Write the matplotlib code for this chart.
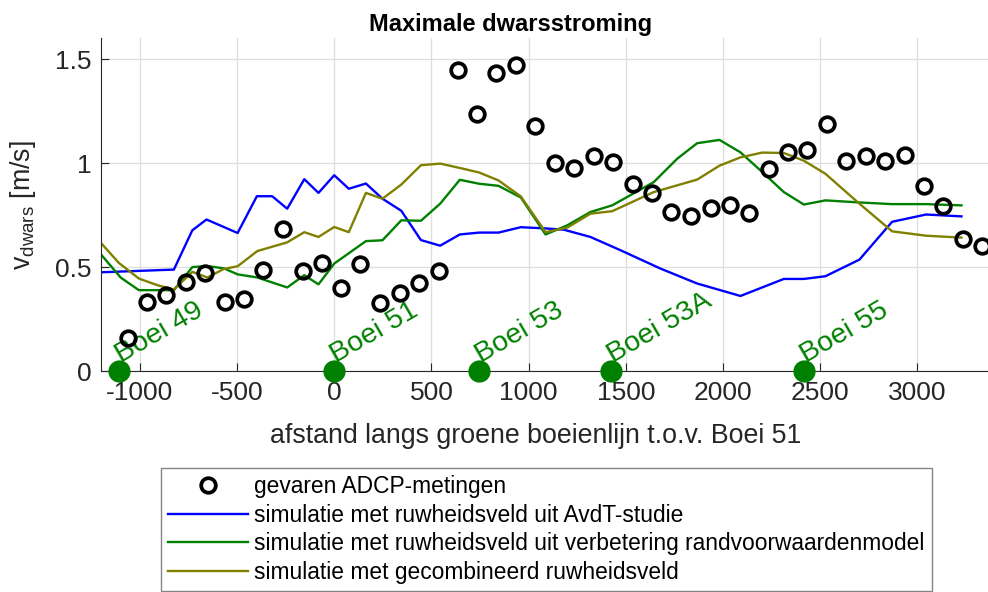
import matplotlib
matplotlib.use('Agg')
import matplotlib.pyplot as plt

plt.rcParams['font.family'] = ['Liberation Sans', 'DejaVu Sans']
plt.rcParams['mathtext.fontset'] = 'custom'
plt.rcParams['mathtext.rm'] = 'Liberation Sans'
plt.rcParams['mathtext.it'] = 'Liberation Sans:italic'
plt.rcParams['axes.unicode_minus'] = False

# gevaren ADCP-metingen
meas_x = [-1060, -962, -863, -761, -664, -561, -465, -364, -264, -163, -64, 36,
          135, 237, 337, 437, 537, 636, 736, 833, 934, 1032, 1135, 1235, 1335,
          1435, 1536, 1636, 1735, 1834, 1936, 2035, 2135, 2236, 2335, 2433,
          2534, 2634, 2735, 2834, 2934, 3035, 3134, 3234, 3333]
meas_y = [0.16, 0.33, 0.365, 0.43, 0.47, 0.33, 0.345, 0.485, 0.685, 0.48, 0.52,
          0.40, 0.515, 0.325, 0.375, 0.425, 0.48, 1.45, 1.235, 1.435, 1.47,
          1.18, 1.00, 0.975, 1.035, 1.005, 0.90, 0.855, 0.765, 0.745, 0.785,
          0.80, 0.76, 0.97, 1.055, 1.065, 1.19, 1.01, 1.035, 1.01, 1.04, 0.89,
          0.795, 0.635, 0.60]

# simulatie AvdT-studie
avdt_x = [-1200, -825, -730, -657, -497, -398, -319, -242, -154, -81, 0, 75,
          163, 248, 345, 446, 545, 646, 746, 845, 960, 1087, 1181, 1318, 1473,
          1678, 1867, 2090, 2313, 2416, 2527, 2702, 2870, 3045, 3227]
avdt_y = [0.475, 0.488, 0.677, 0.729, 0.664, 0.841, 0.841, 0.781, 0.923, 0.857,
          0.942, 0.877, 0.902, 0.829, 0.771, 0.630, 0.603, 0.657, 0.666, 0.666,
          0.692, 0.686, 0.680, 0.645, 0.581, 0.493, 0.421, 0.361, 0.443, 0.443,
          0.456, 0.536, 0.718, 0.753, 0.744]

# simulatie verbetering randvoorwaardenmodel
rvw_x = [-1200, -1099, -1005, -825, -730, -653, -568, -497, -396, -242, -154,
         -81, 0, 163, 248, 345, 446, 545, 646, 746, 845, 960, 1087, 1199, 1318,
         1430, 1644, 1764, 1867, 1982, 2090, 2193, 2313, 2416, 2527, 2702,
         2870, 3045, 3227]
rvw_y = [0.561, 0.450, 0.389, 0.389, 0.500, 0.505, 0.494, 0.465, 0.450, 0.402,
         0.461, 0.417, 0.517, 0.625, 0.629, 0.725, 0.723, 0.805, 0.920, 0.901,
         0.891, 0.835, 0.657, 0.701, 0.765, 0.797, 0.909, 1.021, 1.096, 1.112,
         1.052, 0.965, 0.861, 0.801, 0.821, 0.811, 0.803, 0.803, 0.797]

# simulatie gecombineerd ruwheidsveld
comb_x = [-1200, -1108, -1005, -910, -825, -730, -653, -568, -497, -396, -242,
          -154, -81, 0, 75, 163, 248, 345, 446, 545, 646, 746, 845, 960, 1087,
          1199, 1318, 1430, 1644, 1867, 1982, 2090, 2202, 2313, 2416, 2527,
          2702, 2870, 3045, 3227]
comb_y = [0.616, 0.520, 0.445, 0.413, 0.392, 0.477, 0.450, 0.491, 0.504, 0.577,
          0.619, 0.668, 0.645, 0.693, 0.668, 0.857, 0.829, 0.897, 0.990, 0.998,
          0.977, 0.955, 0.917, 0.840, 0.668, 0.690, 0.757, 0.769, 0.861, 0.921,
          0.988, 1.028, 1.051, 1.049, 1.012, 0.949, 0.805, 0.672, 0.651, 0.642]

boei_namen = ['Boei 49', 'Boei 51', 'Boei 53', 'Boei 53A', 'Boei 55']
boei_x = [-1108, 0, 746, 1426, 2419]

blauw = (0, 0, 1)
groen = (0, 0.5, 0)
olijf = (0.5, 0.5, 0)
grijs = (0.15, 0.15, 0.15)

fig = plt.figure(figsize=(9.88, 5.92), dpi=100)
ax = fig.add_axes([0.1022, 0.3733, 0.905, 0.5617])

h1, = ax.plot(meas_x, meas_y, 'o', mfc='none', mec='k', ms=10.5, mew=2.7, ls='none',
              label='gevaren ADCP-metingen', zorder=4)
h2, = ax.plot(avdt_x, avdt_y, color=blauw, lw=1.7,
              label='simulatie met ruwheidsveld uit AvdT-studie')
h3, = ax.plot(rvw_x, rvw_y, color=groen, lw=1.7,
              label='simulatie met ruwheidsveld uit verbetering randvoorwaardenmodel')
h4, = ax.plot(comb_x, comb_y, color=olijf, lw=1.7,
              label='simulatie met gecombineerd ruwheidsveld')

ax.plot(boei_x, [0]*len(boei_x), 'o', color=groen, ms=15, clip_on=False, zorder=5)
for naam, bx in zip(boei_namen, boei_x):
    ax.text(bx + 10, 0.04, naam, color=groen, fontsize=20.5, rotation=30,
            rotation_mode='anchor', ha='left', va='baseline')

ax.set_xlim(-1200, 3400)
ax.set_ylim(0, 1.6)
ax.set_xticks([-1000, -500, 0, 500, 1000, 1500, 2000, 2500, 3000])
ax.set_yticks([0, 0.5, 1, 1.5])
ax.set_yticklabels(['0', '0.5', '1', '1.5'])
ax.grid(True, color=(0.87, 0.87, 0.87), lw=0.9)
ax.set_axisbelow(True)
for s in ['top', 'right']:
    ax.spines[s].set_visible(False)
for s in ['left', 'bottom']:
    ax.spines[s].set_color(grijs)
ax.tick_params(direction='in', length=6, colors=grijs, labelsize=19, pad=7)

fig.text(511/988, 1 - 31.5/592, 'Maximale dwarsstroming', fontsize=17,
         fontweight='bold', ha='center', va='baseline')
ax.set_xlabel('afstand langs groene boeienlijn t.o.v. Boei 51', fontsize=19.3,
              color=grijs, labelpad=3)
ax.xaxis.set_label_coords(0.4866, -0.155)
ax.set_ylabel(r'v$_{\mathrm{dwars}}$ [m/s]', fontsize=19.3, color=grijs, labelpad=12)

leg = fig.legend(handles=[h1, h2, h3, h4], loc='upper left',
                 bbox_to_anchor=(161/988, 1 - 468/592), fontsize=16.4,
                 frameon=True, fancybox=False, handlelength=3.5,
                 handletextpad=0.3, labelspacing=0.255, borderpad=0.3,
                 borderaxespad=0)
leg.get_frame().set_edgecolor((0.4, 0.4, 0.4))
leg.get_frame().set_linewidth(1.0)

fig.savefig('out.png', dpi=100)
